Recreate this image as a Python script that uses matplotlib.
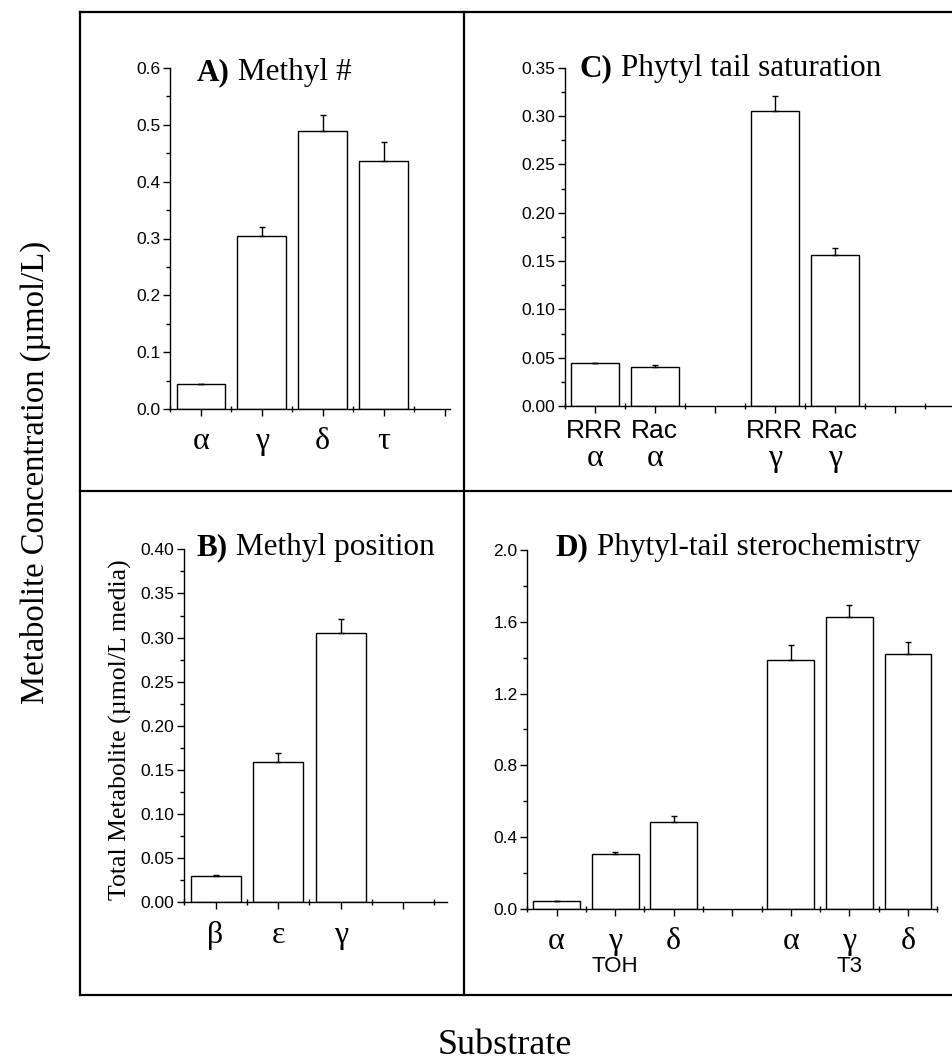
import numpy as np
import matplotlib.pyplot as plt
from matplotlib.lines import Line2D
from matplotlib.ticker import MultipleLocator, FormatStrFormatter

# A) Methyl #
a_labels = ['α', 'γ', 'δ', 'τ']
a_vals = [0.044, 0.305, 0.488, 0.437]
a_err = [0.001, 0.016, 0.029, 0.032]

# B) Methyl position
b_labels = ['β', 'ε', 'γ']
b_vals = [0.030, 0.159, 0.305]
b_err = [0.001, 0.010, 0.016]

# C) Phytyl tail saturation
c_top = ['RRR', 'Rac', 'RRR', 'Rac']
c_greek = ['α', 'α', 'γ', 'γ']
c_pos = [1, 2, 4, 5]
c_vals = [0.044, 0.0405, 0.305, 0.1565]
c_err = [0.0005, 0.0015, 0.016, 0.0065]

# D) Phytyl-tail sterochemistry
d_greek = ['α', 'γ', 'δ', 'α', 'γ', 'δ']
d_group = ['TOH', 'T3']
d_group_pos = [2, 6]
d_pos = [1, 2, 3, 5, 6, 7]
d_vals = [0.044, 0.304, 0.486, 1.388, 1.624, 1.421]
d_err = [0.001, 0.015, 0.030, 0.084, 0.067, 0.064]

SERIF = 'Liberation Serif'
SANS = 'Liberation Sans'

W, H = 953, 1064
fig = plt.figure(figsize=(W / 100, H / 100), dpi=100)


def px(x0, y0, x1, y1):
    # axes rectangle from pixel corners (top-left origin)
    return [x0 / W, 1 - y1 / H, (x1 - x0) / W, (y1 - y0) / H]


def panel(rect, pos, vals, err, xlim, ylim, ymaj, ymin, fmt, xmaj):
    ax = fig.add_axes(rect)
    ax.bar(pos, vals, width=0.8, color='white', edgecolor='black', linewidth=1.0, zorder=2)
    ax.errorbar(pos, vals, yerr=[np.zeros(len(vals)), err], fmt='none',
                ecolor='black', elinewidth=1.0, capsize=2.5, capthick=1.0, zorder=3)
    ax.set_xlim(*xlim)
    ax.set_ylim(*ylim)
    ax.spines['top'].set_visible(False)
    ax.spines['right'].set_visible(False)
    for s in ('left', 'bottom'):
        ax.spines[s].set_linewidth(1.0)
    ax.yaxis.set_major_locator(MultipleLocator(ymaj))
    ax.yaxis.set_minor_locator(MultipleLocator(ymin))
    ax.yaxis.set_major_formatter(FormatStrFormatter(fmt))
    ax.set_xticks(xmaj)
    ax.set_xticks(np.arange(xlim[0], xlim[1] + 0.01, 0.5), minor=True)
    ax.tick_params(axis='y', which='major', direction='out', length=5, width=1,
                   labelsize=12.5, pad=2)
    ax.tick_params(axis='y', which='minor', direction='out', length=3, width=1)
    ax.tick_params(axis='x', which='major', direction='out', length=5, width=1)
    ax.tick_params(axis='x', which='minor', direction='inout', length=5, width=1)
    for t in ax.get_yticklabels():
        t.set_fontfamily(SANS)
    ax.set_xticklabels([''] * len(xmaj))
    ax.patch.set_alpha(0)
    return ax


def title(x, y, bold, rest):
    t = fig.text(x / W, 1 - y / H, bold, family=SERIF, weight='bold', fontsize=22.5,
                 va='baseline', ha='left')
    fig.add_artist(plt.Annotation(' ' + rest, xy=(1, 0), xycoords=t, va='bottom',
                                  ha='left', family=SERIF, fontsize=22.5))


# panel A
axA = panel(px(170.5, 67.7, 450, 409.3), [1, 2, 3, 4], a_vals, a_err,
            (0.5, 5.09), (0, 0.6), 0.1, 0.05, '%.1f', [1, 2, 3, 4, 5])
for p, lab in zip([1, 2, 3, 4], a_labels):
    axA.text(p, -0.095, lab, transform=axA.get_xaxis_transform(), ha='center',
             va='center', family=SERIF, fontsize=23)

# panel C
axC = panel(px(564.7, 67.7, 984.7, 406), c_pos, c_vals, c_err,
            (0.5, 7.5), (0, 0.35), 0.05, 0.025, '%.2f', [1, 2, 3, 4, 5, 6, 7])
for p, top, g in zip(c_pos, c_top, c_greek):
    axC.text(p, -0.074, top, transform=axC.get_xaxis_transform(), ha='center',
             va='center', family=SANS, fontsize=19)
    axC.text(p, -0.155, g, transform=axC.get_xaxis_transform(), ha='center',
             va='center', family=SERIF, fontsize=23)

# panel B
axB = panel(px(184.3, 549.3, 447, 902.4), [1, 2, 3], b_vals, b_err,
            (0.5, 4.7), (0, 0.40), 0.05, 0.025, '%.2f', [1, 2, 3, 4])
for p, lab in zip([1, 2, 3], b_labels):
    axB.text(p, -0.095, lab, transform=axB.get_xaxis_transform(), ha='center',
             va='center', family=SERIF, fontsize=23)
fig.text(120 / W, 1 - 730 / H, 'Total Metabolite (µmol/L media)', rotation=90,
         ha='center', va='center', family=SERIF, fontsize=18.5)

# panel D
axD = panel(px(527.3, 550, 937.3, 908.75), d_pos, d_vals, d_err,
            (0.5, 7.5), (0, 2.0), 0.4, 0.2, '%.1f', [1, 2, 3, 4, 5, 6, 7])
for p, lab in zip(d_pos, d_greek):
    axD.text(p, -0.09, lab, transform=axD.get_xaxis_transform(), ha='center',
             va='center', family=SERIF, fontsize=23)
for p, lab in zip(d_group_pos, d_group):
    axD.text(p, -0.16, lab, transform=axD.get_xaxis_transform(), ha='center',
             va='center', family=SANS, fontsize=16)

title(197, 80, 'A)', 'Methyl #')
title(580, 76, 'C)', 'Phytyl tail saturation')
title(197, 555, 'B)', 'Methyl position')
title(556, 555, 'D)', 'Phytyl-tail sterochemistry')

# outer frame and dividers
lw = 1.6
fx = lambda x: x / W
fy = lambda y: 1 - y / H
for (x0, y0, x1, y1) in [(80, 12, 960, 12), (80, 995, 960, 995), (80, 12, 80, 995),
                         (464, 12, 464, 995), (80, 491, 960, 491)]:
    fig.add_artist(Line2D([fx(x0), fx(x1)], [fy(y0), fy(y1)], color='black', lw=lw))

fig.text(fx(35), fy(472), 'Metabolite Concentration (µmol/L)', rotation=90,
         ha='center', va='center', family=SERIF, fontsize=23.5)
fig.text(fx(505), fy(1045), 'Substrate', ha='center', va='center', family=SERIF,
         fontsize=26)

fig.savefig('out.png', dpi=100)
